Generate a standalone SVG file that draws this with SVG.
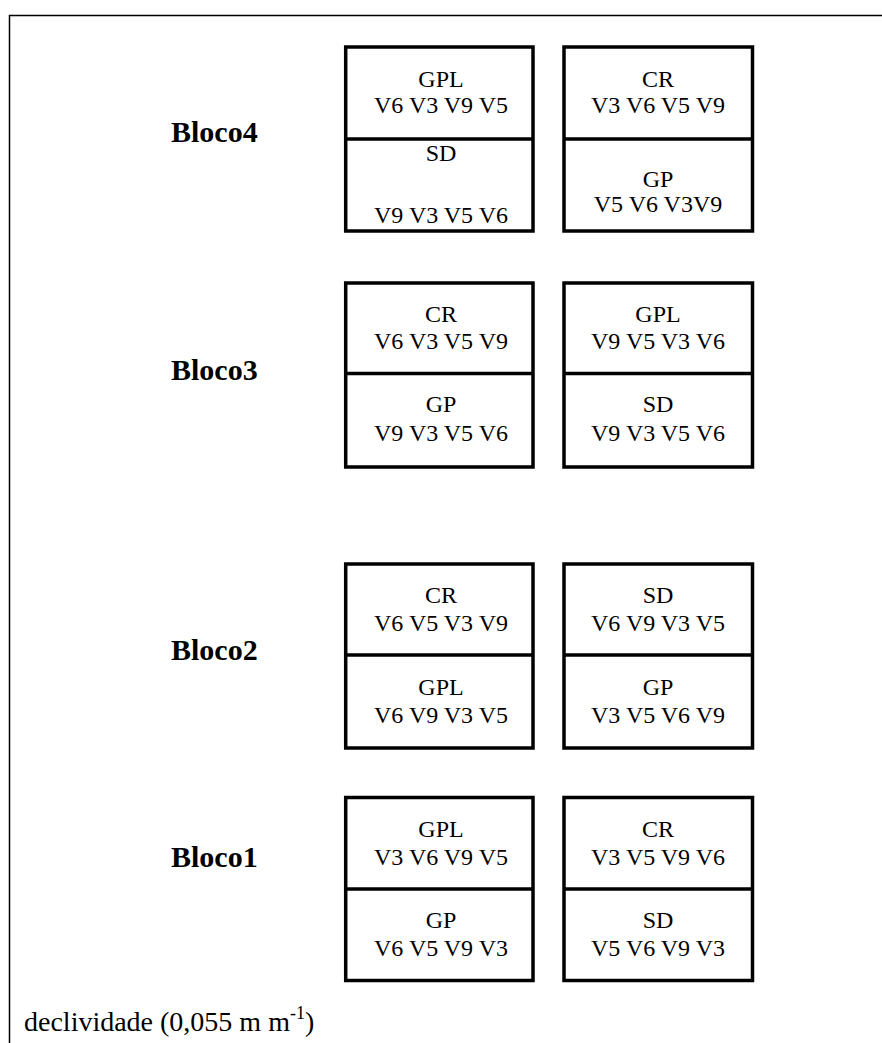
<svg xmlns="http://www.w3.org/2000/svg" width="882" height="1043" viewBox="0 0 882 1043">
<style>
.frame{fill:none;stroke:#000;stroke-width:1.5}
.box{fill:none;stroke:#000;stroke-width:3.5}
.t{font-family:"Liberation Serif","Times New Roman",serif;font-size:24px;fill:#000;text-anchor:middle}
.b{font-family:"Liberation Serif","Times New Roman",serif;font-size:30px;font-weight:bold;fill:#000}
.d{font-family:"Liberation Serif","Times New Roman",serif;font-size:28px;fill:#000}
</style>
<rect width="882" height="1043" fill="#fff"/>
<path class="frame" d="M9.5,1043 V15.5 H882"/>
<g id="bloco4">
<text class="b" x="171" y="142">Bloco4</text>
<rect class="box" x="345.7" y="47" width="187.3" height="184"/>
<line class="box" x1="345.7" y1="139" x2="534" y2="139"/>
<text class="t" x="441" y="87">GPL</text>
<text class="t" x="441" y="113">V6 V3 V9 V5</text>
<text class="t" x="441" y="161">SD</text>
<text class="t" x="441" y="223">V9 V3 V5 V6</text>
<rect class="box" x="564" y="47" width="188.5" height="184"/>
<line class="box" x1="564" y1="139" x2="752.5" y2="139"/>
<text class="t" x="658" y="87">CR</text>
<text class="t" x="658" y="113">V3 V6 V5 V9</text>
<text class="t" x="658" y="187">GP</text>
<text class="t" x="658" y="212">V5 V6 V3V9</text>
</g>
<g id="bloco3">
<text class="b" x="171" y="380">Bloco3</text>
<rect class="box" x="345.7" y="283" width="187.3" height="184"/>
<line class="box" x1="345.7" y1="373.5" x2="534" y2="373.5"/>
<text class="t" x="441" y="322">CR</text>
<text class="t" x="441" y="349">V6 V3 V5 V9</text>
<text class="t" x="441" y="412">GP</text>
<text class="t" x="441" y="441">V9 V3 V5 V6</text>
<rect class="box" x="564" y="283" width="188.5" height="184"/>
<line class="box" x1="564" y1="373.5" x2="752.5" y2="373.5"/>
<text class="t" x="658" y="322">GPL</text>
<text class="t" x="658" y="349">V9 V5 V3 V6</text>
<text class="t" x="658" y="412">SD</text>
<text class="t" x="658" y="441">V9 V3 V5 V6</text>
</g>
<g id="bloco2">
<text class="b" x="171" y="660">Bloco2</text>
<rect class="box" x="345.7" y="564" width="187.3" height="184"/>
<line class="box" x1="345.7" y1="655" x2="534" y2="655"/>
<text class="t" x="441" y="603">CR</text>
<text class="t" x="441" y="631">V6 V5 V3 V9</text>
<text class="t" x="441" y="695">GPL</text>
<text class="t" x="441" y="723">V6 V9 V3 V5</text>
<rect class="box" x="564" y="564" width="188.5" height="184"/>
<line class="box" x1="564" y1="655" x2="752.5" y2="655"/>
<text class="t" x="658" y="603">SD</text>
<text class="t" x="658" y="631">V6 V9 V3 V5</text>
<text class="t" x="658" y="695">GP</text>
<text class="t" x="658" y="723">V3 V5 V6 V9</text>
</g>
<g id="bloco1">
<text class="b" x="171" y="867">Bloco1</text>
<rect class="box" x="345.7" y="797.5" width="187.3" height="183"/>
<line class="box" x1="345.7" y1="889" x2="534" y2="889"/>
<text class="t" x="441" y="837">GPL</text>
<text class="t" x="441" y="865">V3 V6 V9 V5</text>
<text class="t" x="441" y="928">GP</text>
<text class="t" x="441" y="956">V6 V5 V9 V3</text>
<rect class="box" x="564" y="797.5" width="188.5" height="183"/>
<line class="box" x1="564" y1="889" x2="752.5" y2="889"/>
<text class="t" x="658" y="837">CR</text>
<text class="t" x="658" y="865">V3 V5 V9 V6</text>
<text class="t" x="658" y="928">SD</text>
<text class="t" x="658" y="956">V5 V6 V9 V3</text>
</g>
<g id="caption">
<text class="d" x="24" y="1031">declividade (0,055 m m<tspan font-size="18" dy="-12">-1</tspan><tspan dy="12">)</tspan></text>
</g>
</svg>
